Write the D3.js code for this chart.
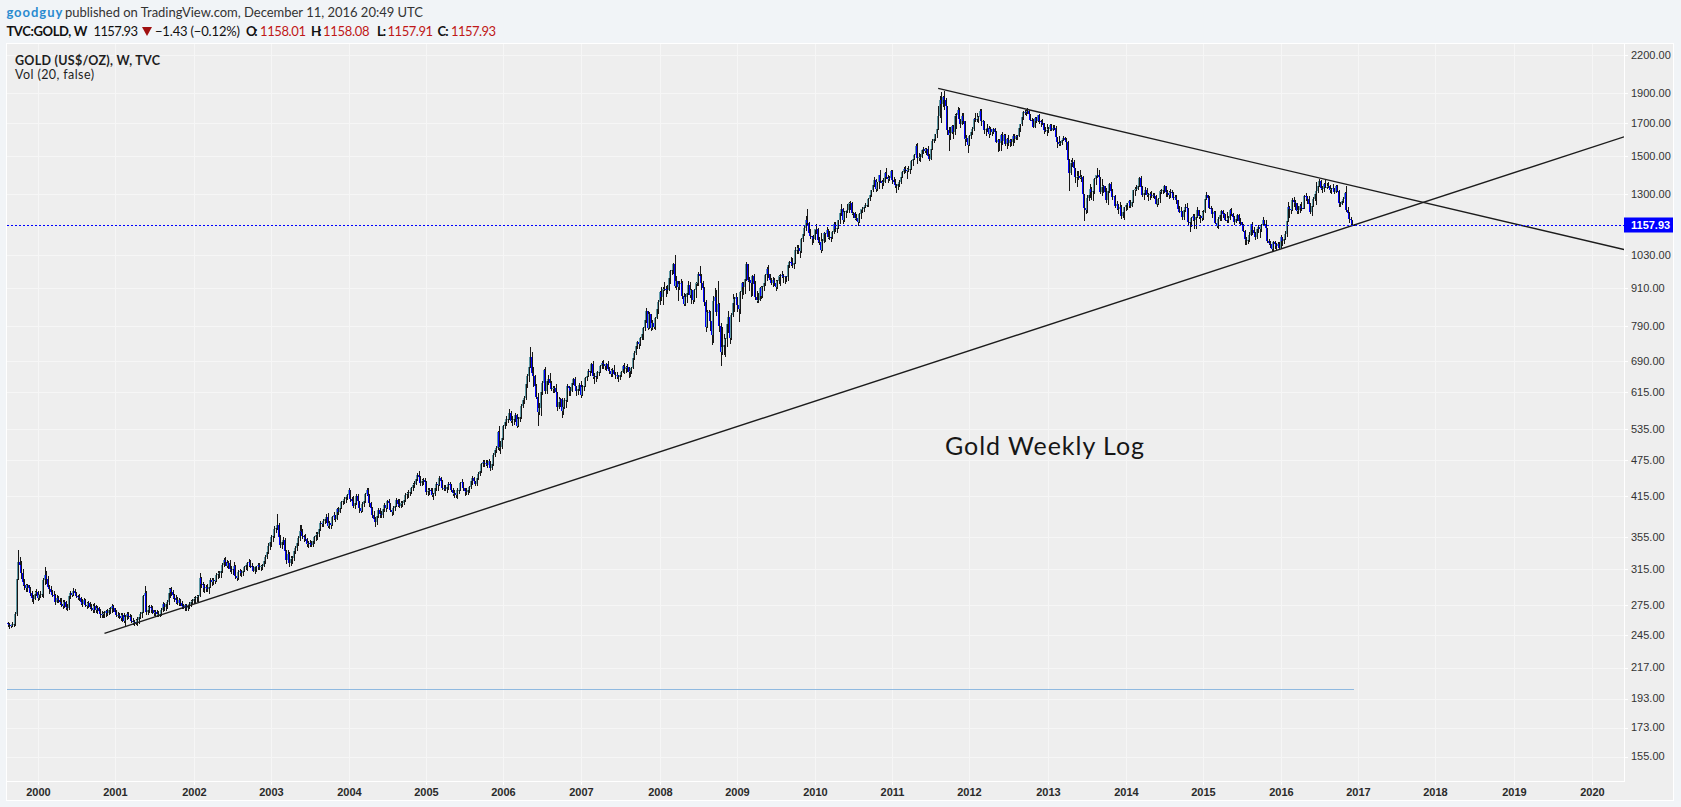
<!DOCTYPE html>
<html><head><meta charset="utf-8">
<script src="https://cdn.jsdelivr.net/npm/d3@7/dist/d3.min.js"></script>
<style>
html,body{margin:0;padding:0;background:#f1f4f7;overflow:hidden;}
svg{display:block;}
</style></head><body>
<svg id="chart" width="1681" height="807"></svg>
<script>
// ---------------- DATA (weekly bars: [high, low, close]; open = previous close) ----------------
const firstOpen = 257;
const w1999 = [[258,254,256],[257,252,255],[256,253,254],[258,254,256],[258,254,256],[268,255,266],[307,265,303],[339,303,324],[330,316,320],[325,305,310],[315,297,300],[303,292,296],[298,290,293],[298,290,296],[296,290,293],[294,286,288],[290,279,282],[285,277,281],[290,283,287],[292,285,289]];
const w2000 = [[290,280,282],[287,281,285],[290,283,287],[290,284,287],[304,283,302],[317,298,308],[312,299,303],[307,293,294],[297,288,292],[295,287,289],[291,284,286],[290,283,285],[287,276,278],[285,278,282],[284,278,280],[282,276,278],[282,274,276],[280,272,274],[280,273,278],[279,271,273],[276,270,272],[285,271,284],[290,282,288],[290,284,286],[293,285,290],[292,285,288],[289,283,284],[286,281,283],[287,280,282],[283,276,278],[281,274,276],[282,276,280],[281,274,275],[278,272,274],[279,273,277],[278,272,273],[276,270,272],[276,268,270],[277,268,274],[275,268,270],[274,267,272],[273,267,269],[271,263,266],[269,263,265],[268,263,266],[269,263,267],[270,264,269],[271,265,267],[272,266,270],[273,267,271],[276,268,274],[275,269,272]];
const w2001 = [[272,266,268],[270,264,265],[268,263,265],[267,262,264],[267,260,262],[267,259,265],[267,258,259],[265,255,263],[268,261,266],[268,262,264],[266,260,263],[265,258,259],[262,256,258],[260,255,258],[261,256,257],[263,255,260],[265,257,263],[268,262,266],[270,263,268],[286,268,284],[295,280,288],[290,266,268],[274,266,270],[275,268,273],[275,268,272],[274,267,270],[270,265,267],[270,264,268],[270,264,266],[269,264,266],[270,264,266],[272,265,270],[278,269,276],[277,270,273],[277,270,276],[280,272,278],[293,276,288],[293,283,292],[294,285,289],[291,282,285],[287,279,282],[285,277,280],[283,276,277],[282,275,280],[281,275,277],[279,272,274],[276,272,273],[276,270,275],[276,270,272],[275,270,274],[278,272,276],[280,274,278],[281,276,279]];
const w2002 = [[283,277,281],[284,278,282],[286,279,283],[286,279,284],[310,284,305],[306,294,298],[300,290,296],[298,289,293],[297,290,294],[298,290,292],[296,288,294],[304,294,302],[305,297,300],[304,298,302],[304,299,301],[310,301,308],[312,305,309],[313,306,310],[314,306,312],[322,311,320],[328,318,326],[330,320,324],[326,317,319],[325,316,322],[326,313,315],[318,310,314],[318,309,315],[323,313,318],[320,304,307],[310,302,304],[314,303,311],[315,308,312],[314,307,310],[315,308,313],[319,312,317],[322,315,320],[323,314,322],[327,319,323],[326,317,319],[322,315,317],[318,312,313],[318,310,317],[319,313,318],[322,315,320],[322,315,317],[320,314,318],[321,315,319],[328,318,325],[332,322,330],[338,328,336],[348,334,344],[352,340,349]];
const w2003 = [[358,344,355],[360,350,357],[370,355,367],[372,362,368],[388,366,372],[375,353,356],[358,342,345],[352,341,349],[356,346,351],[354,334,337],[339,322,326],[338,326,333],[336,319,322],[331,320,327],[331,322,328],[339,326,337],[343,335,341],[349,338,347],[357,345,354],[372,352,363],[372,358,362],[367,354,357],[358,350,355],[359,352,353],[354,343,346],[350,342,348],[351,343,347],[350,343,345],[352,344,350],[357,348,355],[362,352,358],[362,353,359],[368,357,366],[377,365,375],[378,370,373],[380,371,378],[384,375,381],[388,376,384],[389,369,371],[378,368,375],[377,368,372],[385,372,383],[390,380,386],[387,377,381],[397,380,395],[398,388,391],[398,390,397],[408,396,406],[410,403,407],[413,404,410],[416,406,413],[418,410,416]];
const w2004 = [[427,414,424],[425,407,410],[413,405,408],[415,398,400],[406,397,404],[418,403,415],[418,403,407],[408,391,396],[401,390,392],[405,392,402],[412,400,407],[420,405,418],[428,416,425],[427,412,416],[418,400,404],[406,393,396],[398,384,387],[392,378,381],[383,371,376],[388,374,385],[396,384,393],[396,384,388],[392,383,386],[398,384,395],[404,392,401],[404,392,396],[409,396,407],[410,401,404],[404,392,394],[396,387,391],[400,388,397],[402,394,400],[412,400,409],[411,400,403],[410,398,400],[408,398,404],[408,400,404],[413,402,409],[419,408,416],[422,412,418],[424,414,420],[426,416,422],[430,419,428],[436,424,433],[440,430,435],[446,436,442],[452,441,450],[456,443,446],[448,432,436],[442,432,440],[444,435,441],[444,436,438]];
const w2005 = [[440,418,421],[427,417,423],[428,418,425],[428,419,423],[428,415,416],[420,411,418],[430,417,427],[438,425,434],[437,425,433],[447,432,444],[446,435,439],[441,426,428],[432,424,428],[432,424,426],[431,421,429],[437,426,435],[437,430,434],[434,423,425],[428,417,419],[424,414,419],[421,413,416],[428,412,425],[430,420,425],[438,424,436],[442,432,437],[438,424,427],[428,417,423],[428,418,421],[428,418,424],[431,422,429],[441,428,439],[447,435,445],[446,437,440],[440,432,435],[447,433,445],[455,442,451],[459,449,457],[470,455,468],[475,465,472],[475,465,471],[476,466,471],[475,463,466],[478,465,474],[473,458,461],[470,459,468],[488,466,485],[497,482,493],[502,490,498],[530,496,528],[541,494,500],[510,489,500],[520,497,517]];
const w2006 = [[542,515,540],[553,536,549],[561,542,556],[563,548,556],[577,556,567],[573,548,550],[561,542,554],[560,545,555],[567,551,563],[565,539,541],[560,540,556],[566,550,560],[587,558,584],[598,580,597],[605,590,600],[640,598,634],[658,626,654],[682,640,676],[730,678,703],[715,655,660],[677,630,653],[655,624,628],[634,600,603],[612,543,570],[590,565,578],[620,563,614],[641,611,637],[670,631,667],[676,613,618],[646,613,640],[656,633,647],[660,630,636],[642,620,623],[630,614,624],[630,615,625],[633,615,616],[616,575,582],[603,578,591],[602,583,598],[601,560,572],[585,566,580],[600,578,596],[602,581,597],[634,594,628],[630,609,624],[627,609,618],[638,618,635],[648,633,645],[650,626,628],[630,608,618],[627,611,622],[635,620,632]];
const w2007 = [[640,603,609],[632,608,627],[636,620,630],[650,630,648],[657,643,654],[670,652,666],[670,655,665],[687,663,684],[691,648,652],[660,636,654],[658,642,653],[665,649,663],[668,656,664],[680,664,678],[692,674,686],[694,672,683],[684,670,678],[687,669,684],[690,668,670],[675,660,666],[670,652,657],[673,653,669],[682,657,658],[662,648,656],[663,648,656],[656,642,650],[660,647,655],[666,652,664],[682,663,679],[686,660,670],[678,662,675],[684,666,676],[676,650,662],[670,653,666],[676,660,673],[700,672,698],[718,696,713],[735,709,733],[746,725,743],[748,727,737],[757,735,754],[770,752,765],[785,752,783],[808,778,806],[846,800,834],[835,780,784],[833,783,827],[826,777,784],[806,781,799],[811,783,786],[815,780,812],[846,813,843],[870,830,863]];
const w2008 = [[899,857,896],[914,870,882],[915,858,908],[932,903,909],[919,885,908],[920,895,905],[952,903,947],[975,930,971],[994,962,976],[1003,963,999],[1033,915,919],[952,907,934],[937,872,915],[935,906,925],[944,909,928],[937,878,885],[893,853,858],[889,855,882],[898,863,895],[935,892,921],[932,880,887],[906,862,903],[903,860,872],[909,868,903],[932,882,928],[946,920,930],[968,921,960],[990,944,955],[960,908,928],[934,900,912],[916,855,864],[870,775,786],[838,786,831],[838,818,833],[836,776,803],[808,736,763],[885,742,868],[910,860,880],[905,822,833],[934,827,858],[860,775,788],[797,681,714],[785,711,730],[765,710,735],[755,705,750],[803,733,796],[834,770,815],[818,741,753],[830,750,823],[890,820,860],[880,836,873],[893,861,880]];
const w2009 = [[880,836,854],[860,805,841],[900,830,897],[933,878,928],[933,890,914],[950,895,943],[1006,940,998],[998,935,940],[948,905,939],[945,885,929],[958,887,953],[960,915,925],[935,875,879],[900,865,870],[895,863,870],[916,870,911],[919,877,885],[917,880,915],[935,905,929],[960,920,957],[985,940,979],[992,950,961],[958,935,938],[945,925,929],[950,918,940],[947,922,930],[940,905,913],[940,910,937],[958,930,954],[960,920,955],[972,950,958],[962,931,950],[955,928,953],[954,934,950],[999,940,995],[1010,985,1006],[1025,995,1004],[1020,986,992],[1010,982,1003],[1062,1000,1050],[1070,1040,1052],[1070,1038,1058],[1062,1025,1048],[1100,1045,1095],[1120,1090,1118],[1150,1115,1142],[1195,1135,1177],[1227,1160,1165],[1170,1118,1120],[1138,1100,1110],[1110,1075,1105],[1115,1085,1097]];
const w2010 = [[1140,1095,1138],[1162,1120,1140],[1142,1085,1092],[1106,1075,1083],[1123,1044,1050],[1095,1055,1090],[1125,1085,1120],[1122,1087,1118],[1145,1115,1134],[1137,1100,1103],[1132,1098,1105],[1110,1088,1104],[1128,1102,1125],[1168,1122,1162],[1170,1132,1137],[1150,1125,1143],[1180,1145,1180],[1210,1165,1209],[1249,1200,1230],[1233,1166,1176],[1218,1175,1213],[1222,1193,1219],[1250,1212,1221],[1262,1216,1256],[1265,1230,1256],[1263,1204,1208],[1213,1190,1209],[1216,1182,1188],[1204,1180,1188],[1192,1157,1169],[1211,1170,1204],[1228,1189,1227],[1239,1216,1228],[1241,1220,1236],[1256,1240,1246],[1259,1240,1246],[1282,1240,1276],[1300,1270,1297],[1321,1289,1318],[1348,1312,1346],[1387,1340,1372],[1374,1315,1325],[1360,1320,1358],[1398,1330,1394],[1424,1360,1367],[1371,1330,1353],[1381,1345,1362],[1413,1363,1405],[1431,1382,1386],[1396,1360,1377],[1392,1370,1380],[1421,1375,1420]];
const w2011 = [[1423,1355,1369],[1388,1360,1360],[1375,1335,1342],[1348,1308,1340],[1362,1322,1348],[1369,1340,1360],[1390,1356,1388],[1415,1385,1410],[1440,1405,1429],[1445,1410,1421],[1434,1381,1418],[1447,1418,1428],[1440,1407,1430],[1476,1428,1473],[1488,1452,1486],[1510,1482,1504],[1569,1504,1556],[1577,1462,1491],[1520,1478,1492],[1512,1470,1492],[1535,1492,1536],[1550,1520,1542],[1549,1521,1530],[1545,1510,1540],[1560,1498,1502],[1513,1478,1486],[1545,1482,1543],[1597,1538,1590],[1610,1580,1601],[1632,1595,1628],[1685,1610,1663],[1815,1680,1743],[1880,1740,1852],[1912,1705,1828],[1883,1810,1877],[1921,1795,1856],[1867,1768,1812],[1808,1628,1656],[1675,1535,1622],[1675,1598,1636],[1686,1640,1682],[1685,1605,1642],[1755,1630,1745],[1764,1667,1754],[1803,1745,1788],[1797,1702,1724],[1722,1672,1695],[1765,1690,1746],[1762,1702,1711],[1705,1565,1598],[1625,1585,1606],[1610,1522,1565]];
const w2012 = [[1627,1563,1617],[1649,1605,1640],[1675,1630,1664],[1730,1655,1727],[1764,1710,1725],[1763,1712,1725],[1743,1707,1737],[1790,1732,1775],[1792,1688,1711],[1720,1673,1713],[1712,1635,1657],[1670,1627,1662],[1690,1648,1668],[1680,1611,1631],[1677,1628,1660],[1660,1626,1642],[1667,1634,1663],[1667,1632,1644],[1646,1581,1584],[1600,1527,1592],[1600,1533,1573],[1628,1535,1622],[1641,1567,1590],[1630,1582,1627],[1628,1562,1570],[1605,1547,1598],[1626,1565,1578],[1597,1557,1591],[1598,1565,1583],[1628,1565,1620],[1628,1582,1602],[1627,1598,1620],[1626,1598,1616],[1676,1615,1670],[1692,1648,1691],[1740,1689,1737],[1778,1727,1771],[1788,1760,1773],[1787,1750,1772],[1796,1765,1781],[1786,1752,1758],[1760,1718,1722],[1730,1700,1711],[1725,1672,1676],[1738,1676,1731],[1736,1705,1715],[1754,1720,1752],[1755,1702,1713],[1720,1683,1705],[1723,1690,1697],[1697,1635,1657],[1672,1649,1656],[1693,1626,1657]];
const w2013 = [[1677,1644,1662],[1694,1655,1687],[1695,1656,1658],[1685,1652,1669],[1684,1659,1667],[1679,1600,1609],[1611,1555,1581],[1620,1565,1572],[1589,1562,1576],[1598,1570,1592],[1616,1594,1605],[1611,1590,1596],[1605,1539,1581],[1589,1475,1476],[1484,1321,1406],[1476,1403,1462],[1488,1444,1468],[1475,1420,1434],[1435,1359,1386],[1417,1338,1387],[1417,1376,1392],[1424,1380,1383],[1398,1366,1387],[1393,1269,1298],[1285,1180,1234],[1268,1208,1223],[1297,1212,1278],[1298,1268,1295],[1348,1286,1322],[1335,1275,1310],[1321,1270,1312],[1378,1306,1376],[1398,1351,1395],[1434,1385,1396],[1421,1365,1386],[1388,1304,1308],[1375,1296,1332],[1346,1309,1338],[1339,1277,1309],[1327,1261,1272],[1323,1251,1315],[1354,1310,1352],[1361,1307,1313],[1323,1275,1287],[1292,1262,1288],[1296,1238,1244],[1265,1226,1250],[1253,1211,1229],[1262,1223,1236],[1247,1186,1196],[1216,1190,1213],[1239,1182,1237]];
const w2014 = [[1250,1221,1247],[1256,1229,1254],[1270,1235,1264],[1271,1238,1240],[1271,1240,1263],[1319,1261,1318],[1332,1294,1324],[1345,1317,1326],[1355,1322,1338],[1385,1337,1379],[1392,1321,1335],[1337,1288,1294],[1309,1277,1303],[1332,1298,1318],[1331,1290,1294],[1305,1268,1300],[1308,1277,1301],[1315,1286,1290],[1306,1285,1293],[1304,1282,1292],[1295,1251,1251],[1258,1240,1253],[1279,1250,1275],[1321,1262,1316],[1325,1305,1316],[1332,1305,1318],[1346,1310,1337],[1340,1292,1310],[1320,1288,1306],[1312,1281,1294],[1322,1283,1310],[1320,1302,1305],[1308,1274,1280],[1293,1275,1287],[1294,1258,1268],[1269,1228,1230],[1240,1214,1216],[1239,1207,1218],[1220,1183,1192],[1227,1183,1222],[1250,1220,1238],[1256,1225,1231],[1233,1160,1171],[1178,1131,1169],[1191,1152,1187],[1207,1180,1195],[1206,1142,1177],[1221,1142,1191],[1238,1190,1222],[1225,1186,1195],[1200,1170,1196],[1219,1178,1186]];
const w2015 = [[1224,1184,1216],[1282,1220,1277],[1307,1277,1293],[1297,1251,1279],[1290,1232,1234],[1244,1216,1228],[1233,1191,1204],[1220,1193,1213],[1219,1164,1166],[1175,1146,1152],[1190,1142,1184],[1219,1180,1199],[1223,1178,1219],[1224,1191,1207],[1210,1184,1203],[1207,1176,1179],[1215,1170,1178],[1196,1168,1189],[1228,1183,1225],[1232,1201,1204],[1208,1182,1190],[1197,1162,1168],[1194,1171,1181],[1205,1176,1201],[1204,1166,1173],[1186,1162,1168],[1171,1147,1157],[1162,1131,1132],[1134,1077,1098],[1105,1077,1094],[1098,1080,1094],[1127,1090,1113],[1162,1114,1160],[1170,1118,1134],[1147,1118,1121],[1126,1098,1103],[1141,1102,1138],[1157,1125,1145],[1145,1104,1137],[1160,1131,1156],[1191,1155,1176],[1179,1160,1162],[1180,1140,1141],[1142,1085,1088],[1095,1075,1081],[1089,1062,1076],[1081,1052,1056],[1088,1046,1085],[1088,1060,1075],[1080,1050,1066],[1085,1065,1075],[1083,1057,1061]];
const w2016 = [[1111,1063,1104],[1104,1072,1090],[1106,1080,1097],[1128,1095,1117],[1174,1110,1173],[1263,1172,1239],[1240,1191,1230],[1262,1208,1221],[1280,1225,1270],[1287,1242,1259],[1272,1228,1254],[1252,1208,1220],[1243,1208,1222],[1250,1212,1240],[1263,1223,1234],[1271,1232,1232],[1297,1235,1291],[1304,1270,1290],[1280,1258,1273],[1289,1245,1252],[1256,1209,1215],[1246,1199,1242],[1284,1240,1275],[1304,1271,1298],[1362,1250,1315],[1340,1309,1340],[1375,1337,1366],[1371,1322,1328],[1338,1310,1323],[1356,1312,1351],[1368,1335,1335],[1353,1330,1336],[1358,1332,1341],[1346,1311,1320],[1330,1303,1326],[1352,1320,1328],[1330,1306,1310],[1345,1310,1338],[1343,1312,1316],[1321,1241,1257],[1263,1241,1252],[1274,1250,1266],[1284,1260,1276],[1307,1274,1304],[1337,1220,1225],[1239,1201,1208],[1215,1171,1183],[1190,1160,1177],[1180,1156,1159.36]];
// last (current) bar, week of 2016-12-12
const lastOpen = 1158.01, lastHigh = 1158.08, lastLow = 1157.91, lastClose = 1157.93;
const lastChange = -1.43, lastChangePct = -0.12;

const priceTicks = [2200,1900,1700,1500,1300,1030,910,790,690,615,535,475,415,355,315,275,245,217,193,173,155];
const yearTicks = [2000,2001,2002,2003,2004,2005,2006,2007,2008,2009,2010,2011,2012,2013,2014,2015,2016,2017,2018,2019,2020];
// drawn trend lines: [date, price] anchors
const supportLine = [["2000-11-13",247],["2016-12-12",1155]];
const resistanceLine = [["2011-08-08",1937],["2017-11-13",1257]];
const volMaLevel = 200;
const annotationText = "Gold Weekly Log";

// ---------------- BUILD BARS ----------------
const yearArrays = [[1999,w1999],[2000,w2000],[2001,w2001],[2002,w2002],[2003,w2003],[2004,w2004],[2005,w2005],[2006,w2006],[2007,w2007],[2008,w2008],[2009,w2009],[2010,w2010],[2011,w2011],[2012,w2012],[2013,w2013],[2014,w2014],[2015,w2015],[2016,w2016]];
const bars = [];
let prevClose = firstOpen;
yearArrays.forEach(([yr, arr]) => {
  const start = yr === 1999 ? new Date(Date.UTC(1999,7,16)) : d3.utcMonday.ceil(new Date(Date.UTC(yr,0,1)));
  arr.forEach((d, i) => {
    bars.push({date: d3.utcDay.offset(start, 7*i), open: prevClose, high: d[0], low: d[1], close: d[2]});
    prevClose = d[2];
  });
});
bars.push({date: d3.utcDay.offset(bars[bars.length-1].date, 7), open: lastOpen, high: lastHigh, low: lastLow, close: lastClose});

// ---------------- LAYOUT ----------------
const W = 1681, H = 807;
const box = {l: 6, t: 43, r: 1674, b: 801};
const pane = {l: 7, t: 44, r: 1624, b: 781};
const svg = d3.select("#chart");

const x = d3.scaleUtc()
  .domain([new Date(Date.UTC(2000,0,3)), new Date(Date.UTC(2020,0,6))])
  .range([37.5, 37.5 + 1044*1.4887]);
const y = d3.scaleLog().domain([155, 2200]).range([756.6, 54.7]);

svg.append("rect").attr("width", W).attr("height", H).attr("fill", "#f1f4f7");
svg.append("rect").attr("x", box.l + 0.5).attr("y", box.t + 0.5)
  .attr("width", box.r - box.l - 1).attr("height", box.b - box.t - 1)
  .attr("fill", "#eeeeee").attr("stroke", "#ffffff").attr("stroke-width", 1);

const defs = svg.append("defs");
defs.append("clipPath").attr("id", "paneClip").append("rect")
  .attr("x", pane.l).attr("y", pane.t).attr("width", pane.r - pane.l).attr("height", pane.b - pane.t);

// grid
const yearDate = yr => d3.utcMonday.ceil(new Date(Date.UTC(yr,0,1)));
const grid = svg.append("g").attr("shape-rendering", "crispEdges").attr("stroke", "#f6f6f6");
yearTicks.forEach(yr => {
  const xx = Math.round(x(yearDate(yr))) + 0.5;
  grid.append("line").attr("x1", xx).attr("x2", xx).attr("y1", pane.t).attr("y2", pane.b);
});
priceTicks.forEach(p => {
  const yy = Math.round(y(p)) + 0.5;
  grid.append("line").attr("x1", pane.l).attr("x2", pane.r).attr("y1", yy).attr("y2", yy);
});

// separators
const sep = svg.append("g").attr("stroke", "#ffffff").attr("shape-rendering", "crispEdges");
sep.append("line").attr("x1", pane.r + 0.5).attr("x2", pane.r + 0.5).attr("y1", box.t).attr("y2", pane.b + 1);
sep.append("line").attr("x1", box.l).attr("x2", pane.r + 1).attr("y1", pane.b + 0.5).attr("y2", pane.b + 0.5);

// axis ticks + labels
const yAxisG = svg.append("g");
priceTicks.forEach(p => {
  const yy = Math.round(y(p)) + 0.5;
  yAxisG.append("line").attr("x1", pane.r).attr("x2", pane.r + 4).attr("y1", yy).attr("y2", yy)
    .attr("stroke", "#ffffff").attr("shape-rendering", "crispEdges");
  yAxisG.append("text").attr("x", pane.r + 7).attr("y", y(p)).attr("dy", "0.35em")
    .attr("font-family", "Liberation Sans, Arial, sans-serif").attr("font-size", 11).attr("fill", "#333")
    .text(d3.format(".2f")(p));
});
const xAxisG = svg.append("g");
yearTicks.forEach(yr => {
  const xx = Math.round(x(yearDate(yr))) + 0.5;
  xAxisG.append("line").attr("x1", xx).attr("x2", xx).attr("y1", pane.b).attr("y2", pane.b + 4)
    .attr("stroke", "#ffffff").attr("shape-rendering", "crispEdges");
  xAxisG.append("text").attr("x", xx).attr("y", 796).attr("text-anchor", "middle")
    .attr("font-family", "Liberation Sans, Arial, sans-serif").attr("font-size", 11).attr("font-weight", "bold").attr("fill", "#2a2a2a")
    .text(yr);
});

// plot content
const plot = svg.append("g").attr("clip-path", "url(#paneClip)");

// light blue reference line (volume MA)
const lastX = Math.round(x(bars[bars.length-1].date));
plot.append("line").attr("x1", pane.l).attr("x2", lastX).attr("y1", Math.round(y(volMaLevel)) + 0.5).attr("y2", Math.round(y(volMaLevel)) + 0.5)
  .attr("stroke", "#8fb9e0").attr("stroke-width", 1).attr("shape-rendering", "crispEdges");

// candles: 1px colored body next to a 1px dark wick
const candles = plot.append("g").attr("shape-rendering", "crispEdges");
bars.forEach(b => {
  const cx = Math.round(x(b.date));
  const hi = Math.max(b.high, b.open, b.close), lo = Math.min(b.low, b.open, b.close);
  const top = Math.round(y(Math.max(b.open, b.close)));
  const bot = Math.round(y(Math.min(b.open, b.close)));
  candles.append("rect").attr("x", cx - 1).attr("y", top).attr("width", 1).attr("height", Math.max(1, bot - top))
    .attr("fill", b.close >= b.open ? "#5f9aa5" : "#0000ff");
  candles.append("line").attr("x1", cx + 0.5).attr("x2", cx + 0.5)
    .attr("y1", Math.round(y(hi))).attr("y2", Math.round(y(lo)) + 1)
    .attr("stroke", "#161616").attr("stroke-width", 1);
});

// trend lines
const parseDate = d3.utcParse("%Y-%m-%d");
function trendPoints(anchors) {
  const [a, b] = anchors.map(([d, v]) => [x(parseDate(d)), y(v)]);
  const slope = (b[1] - a[1]) / (b[0] - a[0]);
  return [a, [pane.r, a[1] + slope * (pane.r - a[0])]];
}
[supportLine, resistanceLine].forEach(anch => {
  plot.append("path").attr("d", d3.line()(trendPoints(anch)))
    .attr("stroke", "#1c1c1c").attr("stroke-width", 1.4).attr("fill", "none");
});

// last price dotted line
const yLast = Math.round(y(lastClose)) + 0.5;
plot.append("line").attr("x1", pane.l).attr("x2", pane.r).attr("y1", yLast).attr("y2", yLast)
  .attr("stroke", "#0000ff").attr("stroke-width", 1).attr("stroke-dasharray", "2,2").attr("shape-rendering", "crispEdges");

// annotation
svg.append("text").attr("x", 945).attr("y", 455)
  .attr("font-family", "Lato, 'Open Sans', sans-serif").attr("font-size", 25).attr("fill", "#161616")
  .attr("textLength", 199).text(annotationText);

// last price label on axis
svg.append("rect").attr("x", pane.r).attr("y", yLast - 8).attr("width", 49).attr("height", 15).attr("fill", "#0000ff");
svg.append("text").attr("x", pane.r + 7).attr("y", yLast).attr("dy", "0.35em")
  .attr("font-family", "Liberation Sans, Arial, sans-serif").attr("font-size", 11).attr("font-weight", "bold").attr("fill", "#ffffff")
  .text(d3.format(".2f")(lastClose));

// legend in pane
const legendFont = "Lato, 'Open Sans', sans-serif";
svg.append("text").attr("x", 15).attr("y", 65).attr("font-family", legendFont).attr("font-size", 12.5)
  .attr("font-weight", "bold").attr("fill", "#1e1e1e").attr("textLength", 145).text("GOLD (US$/OZ), W, TVC");
svg.append("text").attr("x", 15).attr("y", 79).attr("font-family", legendFont).attr("font-size", 12.5)
  .attr("fill", "#1e1e1e").attr("textLength", 79).text("Vol (20, false)");

// header
const hdr = svg.append("g").attr("font-family", legendFont).attr("font-size", 13);
hdr.append("text").attr("x", 6.4).attr("y", 17).attr("font-weight", "bold").attr("fill", "#2a8bd0").attr("textLength", 56).text("goodguy");
hdr.append("text").attr("x", 65).attr("y", 17).attr("fill", "#333").attr("textLength", 358)
  .text("published on TradingView.com, December 11, 2016 20:49 UTC");
const fmt = d3.format(".2f");
const red = "#c01818";
const seg = [
  {t: "TVC:GOLD, W", x: 6.4, w: 81, b: true, c: "#111"},
  {t: fmt(lastClose), x: 93.6, w: 44.4, c: "#111"},
  {t: "\u2212" + fmt(Math.abs(lastChange)) + " (\u2212" + fmt(Math.abs(lastChangePct)) + "%)", x: 155, w: 85, c: "#111"},
  {t: "O:", x: 246, w: 11.5, b: true, c: "#111"},
  {t: fmt(lastOpen), x: 260, w: 46, c: red},
  {t: "H:", x: 311, w: 10.5, b: true, c: "#111"},
  {t: fmt(lastHigh), x: 323, w: 46.5, c: red},
  {t: "L:", x: 377, w: 9, b: true, c: "#111"},
  {t: fmt(lastLow), x: 387.5, w: 45.5, c: red},
  {t: "C:", x: 437.5, w: 11, b: true, c: "#111"},
  {t: fmt(lastClose), x: 451, w: 45, c: red}
];
seg.forEach(s => {
  hdr.append("text").attr("x", s.x).attr("y", 36).attr("fill", s.c)
    .attr("font-weight", s.b ? "bold" : "normal").attr("textLength", s.w).text(s.t);
});
// down triangle
hdr.append("path").attr("d", "M142,27 L152,27 L147,36 Z").attr("fill", "#a01010");
</script>
</body></html>
